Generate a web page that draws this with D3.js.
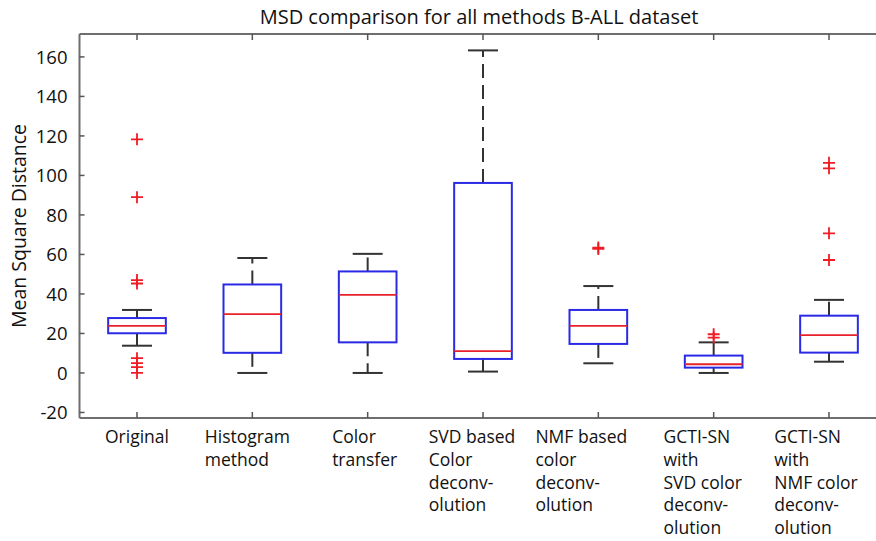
<!DOCTYPE html>
<html>
<head>
<meta charset="utf-8">
<script src="https://cdn.jsdelivr.net/npm/d3@7"></script>
<style>
  html, body { margin: 0; padding: 0; background: #fff; }
  svg { display: block; }
  text { font-family: "Open Sans", sans-serif; fill: #111; }
</style>
</head>
<body>
<svg id="chart" width="876" height="541"></svg>
<script>
// ---- data ----
const categories = [
  ["Original"],
  ["Histogram", "method"],
  ["Color", "transfer"],
  ["SVD based", "Color", "deconv-", "olution"],
  ["NMF based", "color", "deconv-", "olution"],
  ["GCTI-SN", "with", "SVD color", "deconv-", "olution"],
  ["GCTI-SN", "with", "NMF color", "deconv-", "olution"]
];
const whiskerLow  = [13.8, 0,    0,    0.7,  4.9,  0,    5.7];
const q1          = [20.1, 10.2, 15.5, 7.1,  14.7, 2.7,  10.3];
const medians     = [23.8, 29.8, 39.5, 11.1, 23.8, 4.4,  19.2];
const q3          = [27.8, 44.8, 51.4, 96.2, 31.9, 8.8,  29.0];
const whiskerHigh = [31.9, 58.2, 60.3, 163.3, 44.0, 15.5, 37.0];
const outliers = [
  [118.3, 89, 47, 45.3, 7.5, 5, 3, 0],
  [],
  [],
  [],
  [63.5, 62.8],
  [19.6, 17.9],
  [106.4, 103.6, 70.7, 57.2]
];
const yTicks = [-20, 0, 20, 40, 60, 80, 100, 120, 140, 160];
const title = "MSD comparison for all methods B-ALL dataset";
const yTitle = "Mean Square Distance";

// ---- layout ----
const svg = d3.select("#chart");
const plotTop = 34, plotBottom = 418, plotLeft = 79.5;
const x = d3.scaleLinear().domain([1, 7]).range([137, 829]);
const y = d3.scaleLinear().domain([-22.8, 171.6]).range([plotBottom, plotTop]);
const unit = x(2) - x(1);
const boxW = unit * 0.5;
const capW = unit * 0.26;
const labelShift = [0, 5, 3, 11, 17, 11, 13];

const axisColor = "#6e6e6e";
const g = svg.append("g");

// axes frame (left, top, bottom; right side is cropped)
g.append("line").attr("x1", plotLeft).attr("x2", 876).attr("y1", plotTop).attr("y2", plotTop)
  .attr("stroke", axisColor).attr("stroke-width", 2);
g.append("line").attr("x1", plotLeft).attr("x2", 876).attr("y1", plotBottom).attr("y2", plotBottom)
  .attr("stroke", axisColor).attr("stroke-width", 2);
g.append("line").attr("x1", plotLeft).attr("x2", plotLeft).attr("y1", plotTop).attr("y2", plotBottom)
  .attr("stroke", axisColor).attr("stroke-width", 2);

// y ticks (inward) and labels
yTicks.forEach(t => {
  g.append("line").attr("x1", plotLeft).attr("x2", plotLeft + 5)
    .attr("y1", y(t)).attr("y2", y(t)).attr("stroke", "#555").attr("stroke-width", 1.5);
  g.append("text").attr("x", plotLeft - 12).attr("y", y(t)).attr("dy", "0.36em")
    .attr("text-anchor", "end").attr("font-size", 18.5).text(t);
});

// x ticks (inward top and bottom)
categories.forEach((c, i) => {
  const cx = x(i + 1);
  g.append("line").attr("x1", cx).attr("x2", cx).attr("y1", plotBottom).attr("y2", plotBottom - 6)
    .attr("stroke", "#555").attr("stroke-width", 1.5);
  g.append("line").attr("x1", cx).attr("x2", cx).attr("y1", plotTop).attr("y2", plotTop + 6)
    .attr("stroke", "#555").attr("stroke-width", 1.5);
});

// x category labels: left-aligned blocks roughly centred under each tick
categories.forEach((lines, i) => {
  const tg = g.append("g");
  const txt = tg.append("text").attr("font-size", 17.5);
  lines.forEach((ln, j) => {
    txt.append("tspan").attr("x", 0).attr("y", 443 + j * 22.8).text(ln);
  });
  const w = txt.node().getBBox().width;
  tg.attr("transform", `translate(${x(i + 1) - w / 2 - labelShift[i]},0)`);
});

// boxes
const whiskColor = "#333";
categories.forEach((c, i) => {
  const cx = x(i + 1);
  // whiskers (dashed from box edge to cap)
  g.append("line").attr("x1", cx).attr("x2", cx).attr("y1", y(q3[i])).attr("y2", y(whiskerHigh[i]))
    .attr("stroke", whiskColor).attr("stroke-width", 2).attr("stroke-dasharray", "14,7");
  g.append("line").attr("x1", cx).attr("x2", cx).attr("y1", y(q1[i])).attr("y2", y(whiskerLow[i]))
    .attr("stroke", whiskColor).attr("stroke-width", 2).attr("stroke-dasharray", "14,7");
  // caps
  [whiskerHigh[i], whiskerLow[i]].forEach(v => {
    g.append("line").attr("x1", cx - capW / 2).attr("x2", cx + capW / 2).attr("y1", y(v)).attr("y2", y(v))
      .attr("stroke", whiskColor).attr("stroke-width", 2);
  });
  // box
  g.append("rect").attr("x", cx - boxW / 2).attr("width", boxW)
    .attr("y", y(q3[i])).attr("height", y(q1[i]) - y(q3[i]))
    .attr("fill", "none").attr("stroke", "#2a2ae6").attr("stroke-width", 2);
  // median
  g.append("line").attr("x1", cx - boxW / 2).attr("x2", cx + boxW / 2)
    .attr("y1", y(medians[i])).attr("y2", y(medians[i]))
    .attr("stroke", "#e8202a").attr("stroke-width", 1.8);
  // outliers
  outliers[i].forEach(v => {
    const py = y(v), s = 6;
    g.append("path").attr("d", `M${cx - s},${py}H${cx + s}M${cx},${py - s}V${py + s}`)
      .attr("stroke", "#f01c24").attr("stroke-width", 1.8).attr("fill", "none");
  });
});

// title
svg.append("text").attr("x", 479).attr("y", 24).attr("text-anchor", "middle")
  .attr("font-size", 20).text(title);

// y axis title
svg.append("text").attr("transform", `translate(26,${(plotTop + plotBottom) / 2}) rotate(-90)`)
  .attr("text-anchor", "middle").attr("font-size", 19.5).text(yTitle);
</script>
</body>
</html>
